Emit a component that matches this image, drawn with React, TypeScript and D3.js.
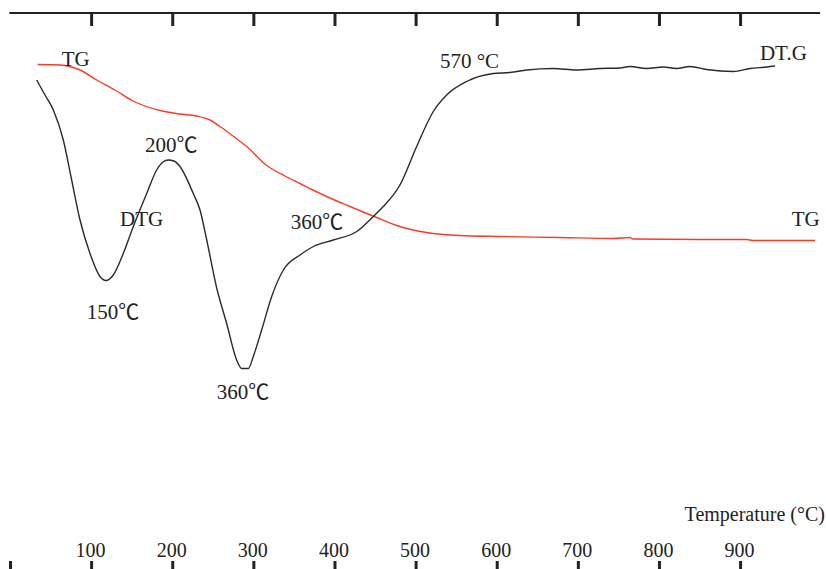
import React from "react";
import * as d3 from "d3";

// Temperature (°C) and relative signal readings
const tgTemp = [33.5, 61.0, 85.7, 106.3, 128.8, 151.0, 184.3, 208.9, 229.5, 245.9, 258.2, 274.3, 291.2, 315.8, 338.4, 356.9, 372.9, 393.8, 418.5, 451.4, 480.1, 513.0, 554.1, 603.4, 677.4, 742.7, 763.6, 767.3, 849.9, 907.5, 915.3, 991.7];
const tgValue = [89.7, 89.6, 88.6, 86.6, 84.6, 82.4, 80.5, 79.8, 79.4, 78.6, 77.3, 75.4, 73.3, 69.5, 67.4, 65.9, 64.6, 63.0, 61.3, 59.1, 57.3, 56.1, 55.5, 55.3, 55.1, 54.9, 55.1, 54.8, 54.7, 54.7, 54.5, 54.5];

const dtgTemp = [32.3, 42.5, 52.8, 65.1, 75.4, 85.7, 98.0, 110.3, 117.7, 126.7, 139.0, 151.4, 167.9, 180.2, 188.0, 194.5, 201.5, 208.9, 225.3, 233.6, 241.9, 254.2, 266.5, 278.8, 285.0, 293.1, 299.3, 309.6, 322.0, 336.3, 356.9, 373.3, 397.9, 426.8, 447.2, 459.5, 480.1, 500.7, 521.2, 537.7, 562.3, 595.1, 615.7, 636.3, 669.1, 697.9, 726.7, 751.3, 763.6, 784.2, 804.7, 821.2, 837.6, 858.2, 891.0, 911.6, 932.2, 942.4];
const dtgValue = [86.6, 83.6, 80.6, 74.6, 66.6, 58.6, 51.9, 47.3, 46.5, 47.6, 51.9, 57.3, 63.9, 68.6, 70.2, 70.6, 70.4, 69.3, 63.9, 60.6, 54.6, 45.0, 37.9, 30.6, 28.9, 28.9, 31.3, 36.6, 43.3, 48.6, 51.6, 53.3, 54.6, 56.3, 59.3, 61.3, 65.6, 73.3, 80.3, 83.6, 86.3, 87.9, 88.1, 88.6, 88.9, 88.6, 88.9, 89.0, 89.3, 88.9, 89.2, 88.9, 89.3, 88.7, 88.3, 88.9, 89.2, 89.4];

const topTicks = [100, 200, 300, 400, 500, 600, 700, 800, 900];
const bottomTicks = [0, 100, 200, 300, 400, 500, 600, 700, 800, 900];
const tickLabels = ["100", "200", "300", "400", "500", "600", "700", "800", "900"];

const annText = ["TG", "200℃", "DTG", "150℃", "360℃", "360℃", "570 °C", "DT.G", "TG"];
const annTemp = [63.1, 165.8, 135.0, 93.9, 254.2, 345.4, 529.4, 923.9, 963.0];
const annValue = [89.4, 72.2, 57.4, 38.8, 22.8, 56.8, 89.0, 90.6, 57.4];

const axisTitle = "Temperature (°C)";

const W = 826;
const H = 569;

export default function App() {
  const x = d3.scaleLinear().domain([0, 1000]).range([10.5, 821.7]);
  const y = d3.scaleLinear().domain([0, 100]).range([513, 13]);

  const line = d3
    .line<[number, number]>()
    .x((d) => x(d[0]))
    .y((d) => y(d[1]))
    .curve(d3.curveMonotoneX);

  const tg = tgTemp.map((t, i) => [t, tgValue[i]] as [number, number]);
  const dtg = dtgTemp.map((t, i) => [t, dtgValue[i]] as [number, number]);

  const font = "'Liberation Serif', 'Noto Sans CJK SC', serif";

  return (
    <svg
      width={W}
      height={H}
      style={{ position: "absolute", left: 0, top: 0, background: "#fff" }}
      fontFamily={font}
    >
      <rect width={W} height={H} fill="#fff" />
      {/* top axis */}
      <line x1={x(-1.5)} x2={x(998)} y1={13} y2={13} stroke="#222" strokeWidth={2} />
      {topTicks.map((t) => (
        <line key={"tt" + t} x1={x(t)} x2={x(t)} y1={13} y2={26} stroke="#222" strokeWidth={3} />
      ))}
      {/* bottom ticks */}
      {bottomTicks.map((t) => (
        <line key={"bt" + t} x1={x(t)} x2={x(t)} y1={561} y2={569} stroke="#222" strokeWidth={3} />
      ))}
      {topTicks.map((t, i) => (
        <text key={"bl" + t} x={x(t) - 1} y={557} fontSize={20} textAnchor="middle" fill="#222">
          {tickLabels[i]}
        </text>
      ))}
      <text x={825} y={521} fontSize={20} textAnchor="end" fill="#222">
        {axisTitle}
      </text>

      {/* curves */}
      <path d={line(tg) || ""} fill="none" stroke="#ff3a26" strokeWidth={1.4} />
      <path d={line(dtg) || ""} fill="none" stroke="#2a2a2a" strokeWidth={1.4} />

      {annText.map((s, i) => (
        <text key={"a" + i} x={x(annTemp[i])} y={y(annValue[i])} fontSize={21} fill="#222">
          {s}
        </text>
      ))}
    </svg>
  );
}
